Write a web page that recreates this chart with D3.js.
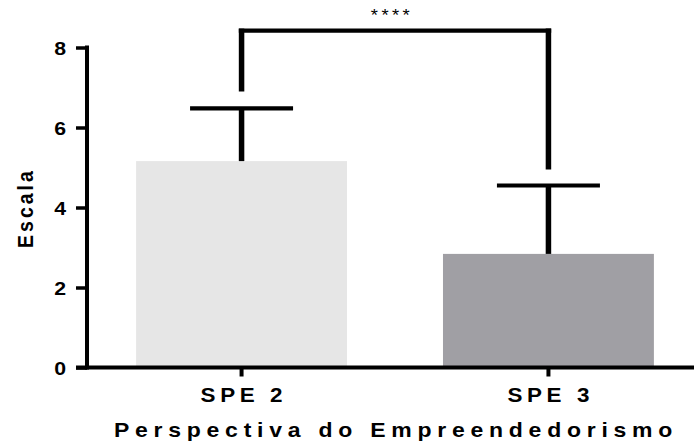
<!DOCTYPE html>
<html>
<head>
<meta charset="utf-8">
<script src="https://cdn.jsdelivr.net/npm/d3@7"></script>
<style>
  body { margin: 0; background: #fff; }
  svg text { font-family: "Liberation Sans", Arial, sans-serif; font-weight: bold; fill: #000; }
</style>
</head>
<body>
<svg id="chart" width="694" height="441"></svg>
<script>
// Group means, upper error (mean + SD) and colours
const categories = ["SPE 2", "SPE 3"];
const means = [5.16, 2.84];
const upperErr = [6.48, 4.55];
const barColors = ["#e6e6e6", "#a09fa4"];
const yTicks = [0, 2, 4, 6, 8];
// Significance bracket: leg bottoms and top level
const bracketLegs = [6.9, 4.95];
const bracketTop = 8.42;
const sigLabel = "****";
const yTitle = "Escala";
const xTitle = "Perspectiva do Empreendedorismo";

const svg = d3.select("#chart");
const axisX = 87;
const y = d3.scaleLinear().domain([0, 8]).range([367.5, 47.5]);
const x = d3.scaleBand().domain(categories).range([axisX, 703])
  .paddingInner(0.3127).paddingOuter(0.16);
const cx = c => x(c) + x.bandwidth() / 2;
const lwV = 5.5;   // vertical strokes
const lwH = 4.2;   // horizontal strokes
const stretch = 1.15; // wide lettering

// bars
svg.selectAll("rect.bar").data(categories).join("rect")
  .attr("class", "bar")
  .attr("x", c => x(c))
  .attr("width", x.bandwidth())
  .attr("y", (c, i) => y(means[i]))
  .attr("height", (c, i) => y(0) - y(means[i]))
  .attr("fill", (c, i) => barColors[i]);

// error bars (upper only)
const capHalf = 51.5;
const eg = svg.append("g").attr("stroke", "#000");
categories.forEach((c, i) => {
  eg.append("line").attr("x1", cx(c)).attr("x2", cx(c)).attr("stroke-width", lwV)
    .attr("y1", y(means[i])).attr("y2", y(upperErr[i]));
  eg.append("line").attr("x1", cx(c) - capHalf).attr("x2", cx(c) + capHalf).attr("stroke-width", lwH)
    .attr("y1", y(upperErr[i])).attr("y2", y(upperErr[i]));
});

// significance bracket
const bg = svg.append("g").attr("stroke", "#000");
const xl = cx(categories[0]), xr = cx(categories[1]), yt = y(bracketTop);
bg.append("line").attr("x1", xl).attr("x2", xl).attr("y1", y(bracketLegs[0])).attr("y2", yt - lwH / 2).attr("stroke-width", lwV);
bg.append("line").attr("x1", xr).attr("x2", xr).attr("y1", y(bracketLegs[1])).attr("y2", yt - lwH / 2).attr("stroke-width", lwV);
bg.append("line").attr("x1", xl - lwV / 2).attr("x2", xr + lwV / 2).attr("y1", yt).attr("y2", yt).attr("stroke-width", lwH);
svg.append("text")
  .attr("transform", `translate(${(xl + xr) / 2 - 3},21) scale(1.15,1)`)
  .attr("text-anchor", "middle")
  .style("font-weight", "normal").style("font-size", "16px").style("letter-spacing", "3px")
  .text(sigLabel);

// y axis
const yAxis = svg.append("g").attr("transform", `translate(${axisX},0)`)
  .call(d3.axisLeft(y).tickValues(yTicks).tickFormat(d3.format("d")).tickSize(11));
yAxis.select(".domain").remove();
yAxis.selectAll(".tick line").attr("stroke", "#000").attr("stroke-width", 3.5);
yAxis.selectAll(".tick text")
  .attr("x", 0).attr("dy", "0.36em")
  .attr("transform", `translate(-21,0) scale(${stretch},1)`)
  .style("font-size", "18.5px");
svg.append("line").attr("x1", axisX).attr("x2", axisX)
  .attr("y1", y(8) - 2).attr("y2", y(0) + 2)
  .attr("stroke", "#000").attr("stroke-width", 4);

// x axis
const xAxis = svg.append("g").attr("transform", `translate(0,${y(0)})`)
  .call(d3.axisBottom(x).tickSize(9).tickPadding(12));
xAxis.select(".domain").remove();
xAxis.selectAll(".tick line").attr("stroke", "#000").attr("stroke-width", 4);
xAxis.selectAll(".tick text")
  .attr("transform", `scale(${stretch},1)`)
  .style("font-size", "19.5px").style("letter-spacing", "4px")
  .attr("dx", "2px");
svg.append("line").attr("x1", 76).attr("x2", 694)
  .attr("y1", y(0)).attr("y2", y(0))
  .attr("stroke", "#000").attr("stroke-width", 4);

// axis titles
svg.append("text")
  .attr("transform", `translate(33,208) rotate(-90) scale(1,${stretch})`)
  .attr("text-anchor", "middle")
  .style("font-size", "19.5px").style("letter-spacing", "3px")
  .text(yTitle);
svg.append("text")
  .attr("transform", `translate(396,437) scale(${stretch},1)`)
  .attr("text-anchor", "middle")
  .style("font-size", "20px").style("letter-spacing", "5px")
  .text(xTitle);
</script>
</body>
</html>
